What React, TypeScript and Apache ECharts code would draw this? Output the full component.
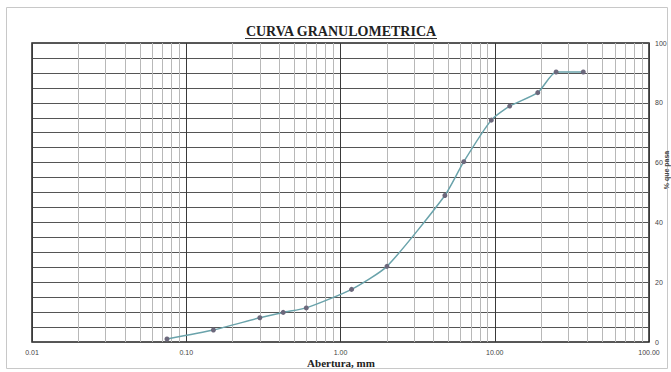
import React, { useEffect, useRef } from "react";
import * as echarts from "echarts";

// Sieve openings (mm) and cumulative percent passing
const openings = [0.075, 0.15, 0.3, 0.425, 0.6, 1.18, 2.0, 4.75, 6.3, 9.5, 12.5, 19.0, 25.0, 37.5];
const passing = [1.0, 4.0, 8.1, 9.9, 11.4, 17.6, 25.3, 49.0, 60.3, 74.2, 78.9, 83.4, 90.3, 90.3];

const decades = [0.01, 0.1, 1, 10];
const minorMultipliers = [2, 3, 4, 5, 6, 7, 8, 9];

const title = "CURVA GRANULOMETRICA";
const xName = "Abertura, mm";
const yName = "% que pasa";

export default function App() {
  const ref = useRef<HTMLDivElement>(null);

  useEffect(() => {
    if (!ref.current) return;
    const chart = echarts.init(ref.current, null, { renderer: "svg" });

    const minorLines: any[] = [];
    decades.forEach((d) => {
      minorMultipliers.forEach((m) => {
        minorLines.push({ xAxis: +(d * m).toPrecision(3) });
      });
    });

    chart.setOption({
      animation: false,
      backgroundColor: "#ffffff",
      grid: {
        left: 32,
        right: 22,
        top: 43,
        bottom: 30,
        show: true,
        borderColor: "#222",
        borderWidth: 1.5,
        backgroundColor: "transparent",
      },
      xAxis: {
        type: "log",
        logBase: 10,
        min: 0.01,
        max: 100,
        axisLine: { show: false },
        axisTick: { show: false },
        axisLabel: {
          fontSize: 7,
          color: "#444",
          fontFamily: "Liberation Sans",
          margin: 7,
          formatter: (v: number) => v.toFixed(2),
        },
        splitLine: { show: true, lineStyle: { color: "#3a3a3a", width: 1 } },
      },
      yAxis: {
        type: "value",
        position: "right",
        min: 0,
        max: 100,
        interval: 5,
        axisLine: { show: false },
        axisTick: { show: false },
        axisLabel: {
          fontSize: 7,
          color: "#444",
          fontFamily: "Liberation Sans",
          margin: 6,
          padding: [0, 0, 6, 0],
          formatter: (v: number) => (v % 20 === 0 ? String(v) : ""),
        },
        splitLine: { show: true, lineStyle: { color: "#555", width: 1 } },
      },
      series: [
        {
          type: "line",
          data: openings.map((o, i) => [o, passing[i]]),
          smooth: 0.2,
          symbol: "circle",
          symbolSize: 5,
          itemStyle: { color: "#6c687c" },
          lineStyle: { color: "#6aa3ab", width: 1.5 },
          z: 5,
          markLine: {
            silent: true,
            symbol: "none",
            label: { show: false },
            lineStyle: { color: "#b8b8b8", width: 1, type: "solid" },
            data: minorLines,
            z: 1,
          },
        },
      ],
      graphic: [
        {
          type: "rect",
          shape: { x: 6.5, y: 7.5, width: 661, height: 361 },
          style: { fill: "none", stroke: "#c8c8c8", lineWidth: 1 },
          silent: true,
        },
        {
          type: "text",
          x: 341,
          y: 31,
          style: {
            text: title,
            font: "bold 14px 'Liberation Serif'",
            fill: "#222",
            align: "center",
            verticalAlign: "middle",
          },
        },
        {
          type: "line",
          shape: { x1: 245, y1: 38.5, x2: 437, y2: 38.5 },
          style: { stroke: "#333", lineWidth: 1 },
        },
        {
          type: "text",
          x: 341,
          y: 363,
          style: {
            text: xName,
            font: "bold 11px 'Liberation Serif'",
            fill: "#222",
            align: "center",
            verticalAlign: "middle",
          },
        },
        {
          type: "text",
          x: 666,
          y: 170,
          rotation: Math.PI / 2,
          style: {
            text: yName,
            font: "bold 7px 'Liberation Sans'",
            fill: "#444",
            align: "center",
            verticalAlign: "middle",
          },
        },
      ],
    });

    return () => chart.dispose();
  }, []);

  return (
    <div
      ref={ref}
      style={{ position: "fixed", left: 0, top: 0, width: 671, height: 372 }}
    />
  );
}
